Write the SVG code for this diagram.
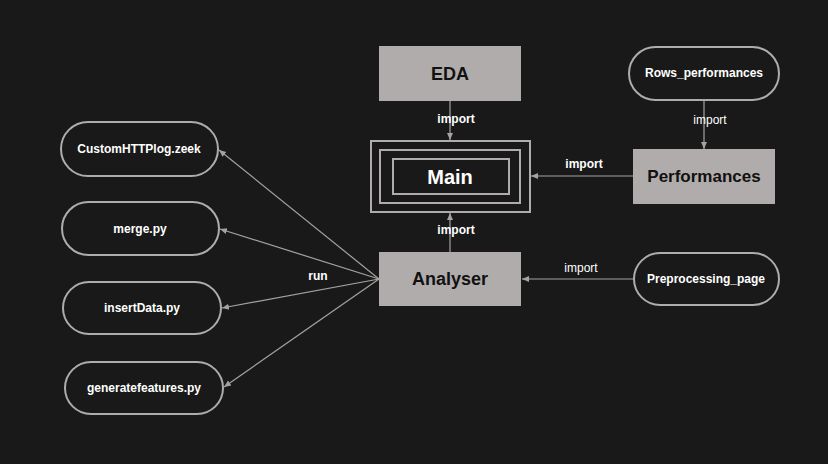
<svg xmlns="http://www.w3.org/2000/svg" width="828" height="464" viewBox="0 0 828 464">
<defs>
<marker id="ah" markerWidth="8" markerHeight="8" refX="7" refY="4" orient="auto" markerUnits="userSpaceOnUse">
<path d="M0,1 L7,4 L0,7 Z" fill="#a6a2a1"/>
</marker>
<style>
.box{fill:#b0acab;}
.pill{fill:#191919;stroke:#b0acab;stroke-width:2;}
.frame{fill:none;stroke:#b0acab;stroke-width:2;}
.btxt{font-family:"Liberation Sans",Arial,sans-serif;font-weight:bold;fill:#111;text-anchor:middle;dominant-baseline:central;}
.wtxt{font-family:"Liberation Sans",Arial,sans-serif;font-weight:bold;fill:#fff;text-anchor:middle;dominant-baseline:central;font-size:12px;}
.lbl{font-family:"Liberation Sans",Arial,sans-serif;fill:#fff;text-anchor:middle;dominant-baseline:central;font-size:12px;}
.edge{stroke:#a6a2a1;stroke-width:1.2;fill:none;marker-end:url(#ah);}
</style>
</defs>
<rect width="828" height="464" fill="#191919"/>
<g id="connectors">
<line class="edge" x1="450" y1="101" x2="450" y2="140"/>
<line class="edge" x1="704" y1="100" x2="704" y2="149"/>
<line class="edge" x1="633" y1="176" x2="531" y2="176"/>
<line class="edge" x1="450" y1="252" x2="450" y2="213"/>
<line class="edge" x1="634" y1="279" x2="522" y2="279"/>
<line class="edge" x1="379" y1="279" x2="219" y2="150"/>
<line class="edge" x1="379" y1="279" x2="220" y2="229"/>
<line class="edge" x1="379" y1="279" x2="222" y2="308"/>
<line class="edge" x1="379" y1="279" x2="224" y2="387"/>
<text class="lbl" x="456" y="119" font-weight="bold">import</text>
<text class="lbl" x="710" y="120">import</text>
<text class="lbl" x="584" y="164" font-weight="bold">import</text>
<text class="lbl" x="456" y="230" font-weight="bold">import</text>
<text class="lbl" x="581" y="268">import</text>
<text class="lbl" x="318" y="276" font-weight="bold">run</text>
</g>
<g id="eda">
<rect class="box" x="379" y="46" width="142" height="55"/>
<text class="btxt" x="450" y="74" font-size="18">EDA</text>
</g>
<g id="main">
<rect class="frame" x="371" y="141" width="159" height="71"/>
<rect class="frame" x="380" y="150" width="140" height="53"/>
<rect class="frame" x="393" y="159" width="116" height="35"/>
<text class="wtxt" x="450" y="177" font-size="20" style="font-size:20px">Main</text>
</g>
<g id="performances">
<rect class="box" x="633" y="149" width="142" height="55"/>
<text class="btxt" x="704" y="176" font-size="17">Performances</text>
</g>
<g id="rows_performances">
<rect class="pill" x="629" y="47" width="150" height="53" rx="26.5"/>
<text class="wtxt" x="704" y="73">Rows_performances</text>
</g>
<g id="analyser">
<rect class="box" x="379" y="252" width="142" height="54"/>
<text class="btxt" x="450" y="279" font-size="18">Analyser</text>
</g>
<g id="preprocessing_page">
<rect class="pill" x="634" y="253" width="145" height="52" rx="26"/>
<text class="wtxt" x="706" y="279">Preprocessing_page</text>
</g>
<g id="customhttplog">
<rect class="pill" x="61" y="122" width="157" height="54" rx="27"/>
<text class="wtxt" x="139" y="149">CustomHTTPlog.zeek</text>
</g>
<g id="merge">
<rect class="pill" x="62" y="202" width="157" height="53" rx="26.5"/>
<text class="wtxt" x="140" y="229">merge.py</text>
</g>
<g id="insertdata">
<rect class="pill" x="63" y="282" width="158" height="52" rx="26"/>
<text class="wtxt" x="142" y="308">insertData.py</text>
</g>
<g id="generatefeatures">
<rect class="pill" x="65" y="362" width="158" height="52" rx="26"/>
<text class="wtxt" x="144" y="388">generatefeatures.py</text>
</g>
</svg>
